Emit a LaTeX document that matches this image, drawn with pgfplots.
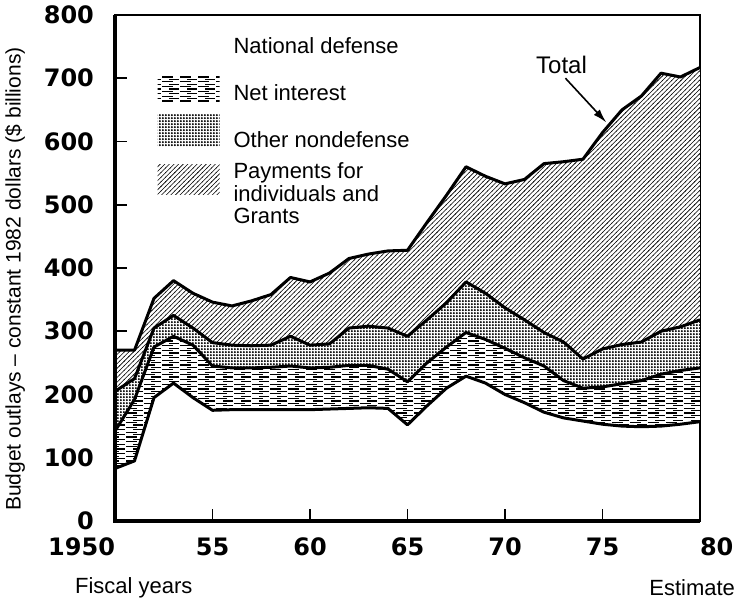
\documentclass[border=0pt]{standalone}
\usepackage{pgfplots}
\pgfplotsset{compat=1.18}
\usepackage{pgfplotstable}
\usepgfplotslibrary{fillbetween}
\usetikzlibrary{patterns,arrows.meta}
\usepackage{fontspec}
\setmainfont{Liberation Sans}
\newfontfamily\tickfont{DejaVu Sans}

\pgfdeclarepatternformonly{hatchfine}{\pgfqpoint{-0.5pt}{-0.5pt}}{\pgfqpoint{2.8pt}{2.8pt}}{\pgfqpoint{2.3pt}{2.3pt}}{%
  \pgfsetlinewidth{0.28pt}%
  \pgfpathmoveto{\pgfqpoint{-0.2pt}{-0.2pt}}%
  \pgfpathlineto{\pgfqpoint{2.5pt}{2.5pt}}%
  \pgfusepath{stroke}}
\pgfdeclarepatternformonly{dotfine}{\pgfqpoint{-0.6pt}{-0.6pt}}{\pgfqpoint{2pt}{2pt}}{\pgfqpoint{1.5pt}{1.5pt}}{%
  \pgfpathcircle{\pgfqpoint{0.45pt}{0.45pt}}{0.55pt}%
  \pgfusepath{fill}}
\pgfdeclarepatternformonly{hdash}{\pgfqpoint{-0.5pt}{-0.5pt}}{\pgfqpoint{9.5pt}{2.8pt}}{\pgfqpoint{9pt}{2.4pt}}{%
  \pgfsetlinewidth{0.55pt}%
  \pgfpathmoveto{\pgfqpoint{0pt}{0pt}}\pgfpathlineto{\pgfqpoint{5.5pt}{0pt}}%
  \pgfpathmoveto{\pgfqpoint{3.5pt}{1.2pt}}\pgfpathlineto{\pgfqpoint{8.5pt}{1.2pt}}%
  \pgfusepath{stroke}}

\pgfplotstableread{
year def net oth tot
1950 83 142 205 270
1951 95 192 225 270
1952 195 275 305 352
1953 218 292 325 380
1954 195 278 305 360
1955 175 245 282 346
1956 176 242 278 340
1957 176 242 277 348
1958 176 243 278 358
1959 176 245 292 385
1960 176 242 278 378
1961 177 243 280 392
1962 178 246 305 415
1963 179 246 308 422
1964 178 240 305 427
1965 152 220 292 428
1966 182 250 318 472
1967 210 275 345 515
1968 229 298 378 560
1969 218 287 360 545
1970 200 273 337 533
1971 187 258 318 540
1972 172 245 298 565
1973 163 222 283 568
1974 158 210 256 572
1975 153 212 272 614
1976 150 217 279 650
1977 149 222 283 672
1978 150 232 300 708
1979 153 238 307 702
1980 157 242 318 717
}\budget

\begin{document}
\begin{tikzpicture}
\begin{axis}[
  scale only axis, width=292.5pt, height=253pt,
  xmin=1950, xmax=1980, ymin=0, ymax=800,
  clip mode=individual,
  xtick={1950,1955,...,1980},
  xticklabels={\llap{1950},55,60,65,70,75,\rlap{80}},
  ytick={0,100,...,800},
  tick align=inside, xtick pos=bottom, ytick pos=left,
  major tick length=6pt,
  tick style={line width=0.8pt, black},
  axis line style={line width=0.9pt},
  ticklabel style={font=\tickfont\fontsize{12}{14}\selectfont\bfseries},
  /pgf/number format/assume math mode=true,
  yticklabel style={xshift=-7pt},
  xticklabel style={yshift=-5pt},
  ylabel={Budget outlays -- constant 1982 dollars (\$ billions)},
  every axis y label/.style={at={([xshift=-50pt]rel axis cs:0,0.478)}, rotate=90, anchor=center, font=\fontsize{10.5}{12}\selectfont},
  legend style={at={(rel axis cs:0.072,0.964)}, anchor=north west, draw=none, fill=none,
    font=\fontsize{11}{11.3}\selectfont, row sep=10pt, inner sep=0pt},
  legend cell align=left,
]
\addlegendimage{legend image code/.code={\path[draw=none] (0pt,0pt) -- (36pt,0pt);}}
\addlegendentry{National defense}
\addlegendimage{legend image code/.code={\path[draw=none] (0pt,0pt) -- (36pt,0pt);
  \path[draw=none, pattern=hdash, overlay] (0pt,-4pt) rectangle (31pt,9.5pt);}}
\addlegendentry{Net interest}
\addlegendimage{legend image code/.code={\path[draw=none] (0pt,0pt) -- (36pt,0pt);
  \path[draw=none, pattern=dotfine, overlay] (0pt,-3pt) rectangle (31pt,13pt);}}
\addlegendentry{Other nondefense}
\addlegendimage{legend image code/.code={\path[draw=none] (0pt,0pt) -- (36pt,0pt);
  \path[draw=none, pattern=hatchfine, overlay] (0pt,-7.5pt) rectangle (31pt,7.5pt);}}
\addlegendentry{\raisebox{0pt}[-0.5pt][\depth]{\begin{tabular}[t]{@{}l@{}}Payments for\\individuals and\\Grants\end{tabular}}}

\addplot[name path=tot, draw=none, forget plot] table[x=year,y=tot]{\budget};
\addplot[name path=oth, draw=none, forget plot] table[x=year,y=oth]{\budget};
\addplot[name path=net, draw=none, forget plot] table[x=year,y=net]{\budget};
\addplot[name path=def, draw=none, forget plot] table[x=year,y=def]{\budget};

\addplot[fill=white, draw=none, forget plot] fill between[of=tot and oth];
\addplot[pattern=hatchfine, draw=none, forget plot] fill between[of=tot and oth];
\addplot[fill=white, draw=none, forget plot] fill between[of=oth and net];
\addplot[pattern=dotfine, draw=none, forget plot] fill between[of=oth and net];
\addplot[fill=white, draw=none, forget plot] fill between[of=net and def];
\addplot[pattern=hdash, draw=none, forget plot] fill between[of=net and def];

\addplot[black, line width=1.5pt, line join=round, forget plot] table[x=year,y=tot]{\budget};
\addplot[black, line width=1.5pt, line join=round, forget plot] table[x=year,y=oth]{\budget};
\addplot[black, line width=1.5pt, line join=round, forget plot] table[x=year,y=net]{\budget};
\addplot[black, line width=1.5pt, line join=round, forget plot] table[x=year,y=def]{\budget};

\draw[line width=1.6pt] (rel axis cs:0,1) -- (rel axis cs:0,0) -- (rel axis cs:1,0);
\node[font=\fontsize{12}{14}\selectfont] at (axis cs:1972.9,721) {Total};
\draw[line width=0.8pt, -{Latex[length=7pt,width=4pt]}] (axis cs:1973.1,700) -- (axis cs:1975.2,630);
\node[anchor=west, font=\fontsize{11}{13}\selectfont] at ([xshift=-23.5pt,yshift=-33.5pt]rel axis cs:0,0) {Fiscal years};
\node[anchor=east, font=\fontsize{11}{13}\selectfont] at ([xshift=21pt,yshift=-33.5pt]rel axis cs:1,0) {Estimate};
\end{axis}
\pgfresetboundingbox
\useasboundingbox ([xshift=-57.5pt,yshift=-42pt]current axis.south west) rectangle ([xshift=19.5pt,yshift=7.5pt]current axis.north east);
\end{tikzpicture}
\end{document}
